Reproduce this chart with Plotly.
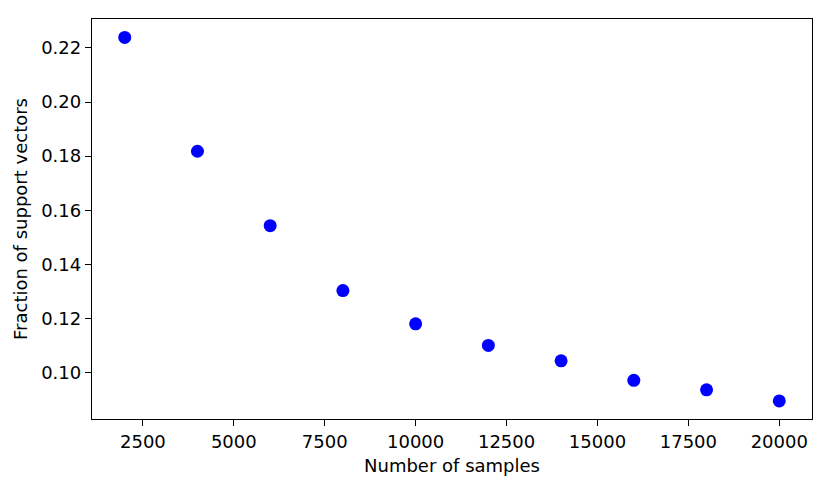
import plotly.graph_objects as go

samples = [2000, 4000, 6000, 8000, 10000, 12000, 14000, 16000, 18000, 20000]
fraction_sv = [0.2239, 0.1818, 0.1543, 0.1303, 0.1180, 0.1100, 0.1043, 0.0971, 0.0936, 0.0895]

x_ticks = [2500, 5000, 7500, 10000, 12500, 15000, 17500, 20000]
y_ticks = [0.10, 0.12, 0.14, 0.16, 0.18, 0.20, 0.22]

fig = go.Figure()
fig.add_trace(go.Scatter(
    x=samples, y=fraction_sv, mode="markers",
    marker=dict(color="#0000ff", size=13, line=dict(width=0)),
    showlegend=False,
))

font = dict(family="DejaVu Sans", size=18, color="black")
axis_common = dict(
    showline=True, mirror=True, linecolor="black", linewidth=1.3,
    ticks="outside", ticklen=6, tickwidth=1.3, tickcolor="black",
    showgrid=False, zeroline=False, automargin=False,
    tickfont=font, title_font=font,
)

fig.update_layout(
    width=831, height=489,
    margin=dict(l=92, r=19, t=19, b=70),
    paper_bgcolor="white", plot_bgcolor="white",
    font=font,
    xaxis=dict(range=[1100, 20900], tickvals=x_ticks,
               ticktext=[str(v) for v in x_ticks],
               title=dict(text="Number of samples", standoff=8), **axis_common),
    yaxis=dict(range=[0.0828, 0.2307], tickvals=y_ticks,
               ticktext=[f"{v:.2f}" for v in y_ticks],
               title=dict(text="Fraction of support vectors", standoff=8), **axis_common),
)

fig.write_html("out.html", config={"displayModeBar": False},
               post_script="document.body.style.margin='0';document.body.style.overflow='hidden';")
